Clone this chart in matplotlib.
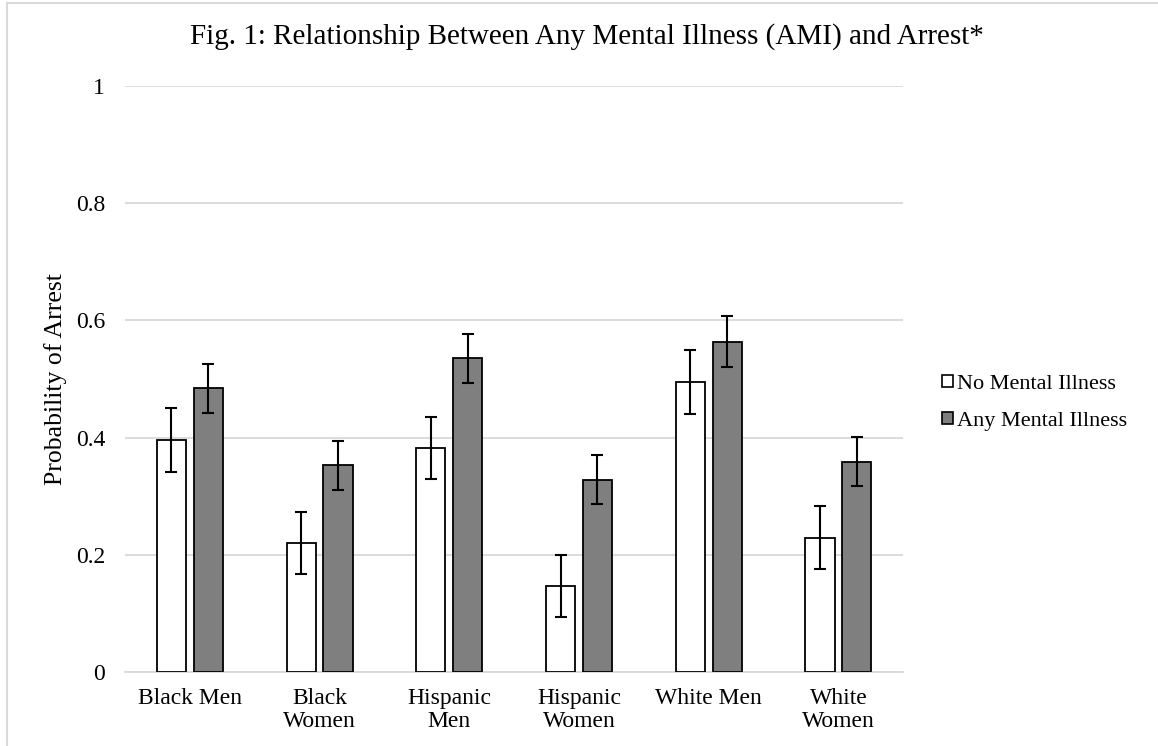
import matplotlib.pyplot as plt
import matplotlib.patches as mpatches
import matplotlib.lines as mlines
import numpy as np

plt.rcParams['font.family'] = ['Liberation Serif', 'DejaVu Serif']

# Data
groups = ["Black Men", "Black\nWomen", "Hispanic\nMen", "Hispanic\nWomen",
          "White Men", "White\nWomen"]
no_mi = [0.396, 0.220, 0.383, 0.147, 0.495, 0.229]
no_mi_err = [0.054, 0.053, 0.053, 0.053, 0.054, 0.054]
any_mi = [0.484, 0.353, 0.535, 0.328, 0.564, 0.359]
any_mi_err = [0.042, 0.042, 0.042, 0.042, 0.043, 0.042]
yticks = [0, 0.2, 0.4, 0.6, 0.8, 1]
ytick_labels = ["0", "0.2", "0.4", "0.6", "0.8", "1"]

x = np.arange(len(groups))
width = 0.224
offset = 0.142

fig = plt.figure(figsize=(11.58, 7.46), dpi=100)
ax = fig.add_axes([0.108, 0.0992, 0.672, 0.7855])

err_kw = dict(ecolor='black', elinewidth=1.5, capsize=4.2, capthick=1.5)
ax.bar(x - offset, no_mi, width, yerr=no_mi_err, color='white',
       edgecolor='black', linewidth=1.3, label='No Mental Illness',
       error_kw=err_kw, zorder=3)
ax.bar(x + offset, any_mi, width, yerr=any_mi_err, color='#7f7f7f',
       edgecolor='black', linewidth=1.3, label='Any Mental Illness',
       error_kw=err_kw, zorder=3)

ax.set_xlim(-0.5, len(groups) - 0.5)
ax.set_ylim(0, 1)
ax.set_yticks(yticks)
ax.set_yticklabels(ytick_labels, fontsize=17)
ax.set_xticks(x)
ax.set_xticklabels(groups, fontsize=17, linespacing=1.1)
ax.tick_params(axis='both', length=0)
ax.tick_params(axis='y', pad=14.4)
ax.tick_params(axis='x', pad=11.5)

ax.grid(axis='y', color='#d9d9d9', linewidth=1.3, zorder=0)
for s in ['top', 'right', 'left']:
    ax.spines[s].set_visible(False)
ax.spines['bottom'].set_color('#d9d9d9')
ax.spines['bottom'].set_linewidth(1.3)

ax.set_ylabel('Probability of Arrest', fontsize=18.5, labelpad=6.5)
fig.text(0.507, 0.951, 'Fig. 1: Relationship Between Any Mental Illness (AMI) and Arrest*',
         fontsize=21, ha='center', va='center')

handles = [mpatches.Patch(facecolor='white', edgecolor='black', linewidth=1.2,
                          label='No Mental Illness'),
           mpatches.Patch(facecolor='#7f7f7f', edgecolor='black', linewidth=1.2,
                          label='Any Mental Illness')]
fig.legend(handles=handles, loc='center left', bbox_to_anchor=(0.796, 0.46),
           frameon=False, fontsize=16, handlelength=0.5, handleheight=0.5,
           handletextpad=0.2, labelspacing=0.8)

# light chart-area frame (left and top edges)
fig.add_artist(mlines.Line2D([0.006, 0.006], [0, 0.996], transform=fig.transFigure,
                             color='#d9d9d9', linewidth=1.5))
fig.add_artist(mlines.Line2D([0.006, 1], [0.996, 0.996], transform=fig.transFigure,
                             color='#d9d9d9', linewidth=1.5))

fig.savefig('out.png', dpi=100)
